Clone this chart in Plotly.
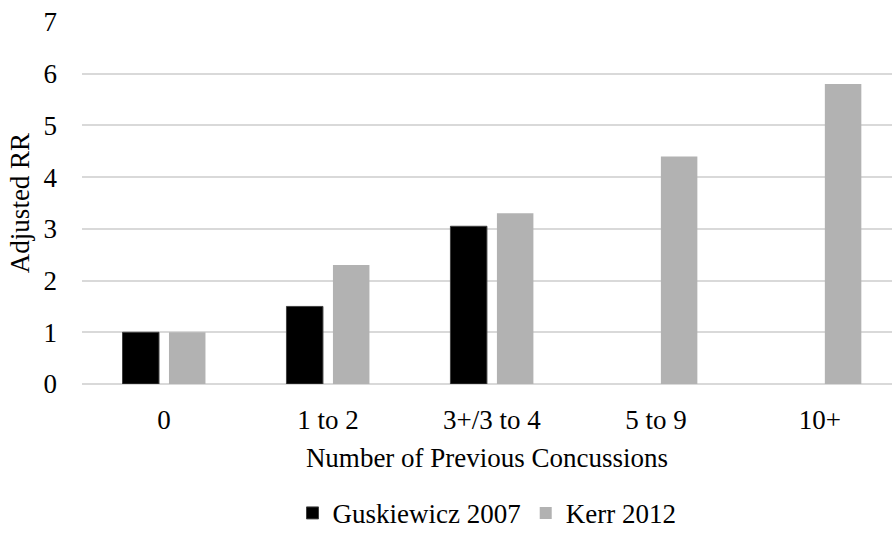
import plotly.graph_objects as go

categories = ["0", "1 to 2", "3+/3 to 4", "5 to 9", "10+"]
guskiewicz_2007 = [1.0, 1.5, 3.05, None, None]
kerr_2012 = [1.0, 2.3, 3.3, 4.4, 5.8]
y_ticks = [0, 1, 2, 3, 4, 5, 6, 7]

FONT = "Liberation Serif"
SIZE = 27

fig = go.Figure()
fig.add_trace(go.Bar(
    x=categories, y=guskiewicz_2007, name="Guskiewicz 2007",
    marker=dict(color="#000000", line=dict(color="#404040", width=1)),
))
fig.add_trace(go.Bar(
    x=categories, y=kerr_2012, name="Kerr 2012",
    marker=dict(color="#b2b2b2", line=dict(width=0)),
))

fig.update_layout(
    width=892, height=539,
    margin=dict(l=82, r=0, t=22, b=155, autoexpand=False),
    paper_bgcolor="white", plot_bgcolor="white",
    font=dict(family=FONT, size=SIZE, color="#000000"),
    barmode="group", bargap=0.433, bargroupgap=0.215,
    showlegend=True,
    legend=dict(orientation="h", x=0.5, xanchor="center", xref="paper",
                y=-0.425, yanchor="bottom", font=dict(family=FONT, size=SIZE),
                itemwidth=30, traceorder="normal"),
)
fig.update_xaxes(
    type="category", range=[-0.5, 4.44], automargin=False,
    showgrid=False, showline=False, ticks="",
    tickfont=dict(family=FONT, size=SIZE), ticklabelstandoff=17,
    title=dict(text="Number of Previous Concussions",
               font=dict(family=FONT, size=SIZE), standoff=14),
)
fig.update_yaxes(
    range=[0, 7], tickvals=y_ticks, automargin=False,
    showgrid=True, gridcolor="#d9d9d9", gridwidth=1.5,
    zeroline=True, zerolinecolor="#d9d9d9", zerolinewidth=1.5,
    showline=False, ticks="", tickfont=dict(family=FONT, size=SIZE),
    ticklabelstandoff=24,
    title=dict(text="Adjusted RR", font=dict(family=FONT, size=SIZE), standoff=6),
)

fig.write_html("out.html")
